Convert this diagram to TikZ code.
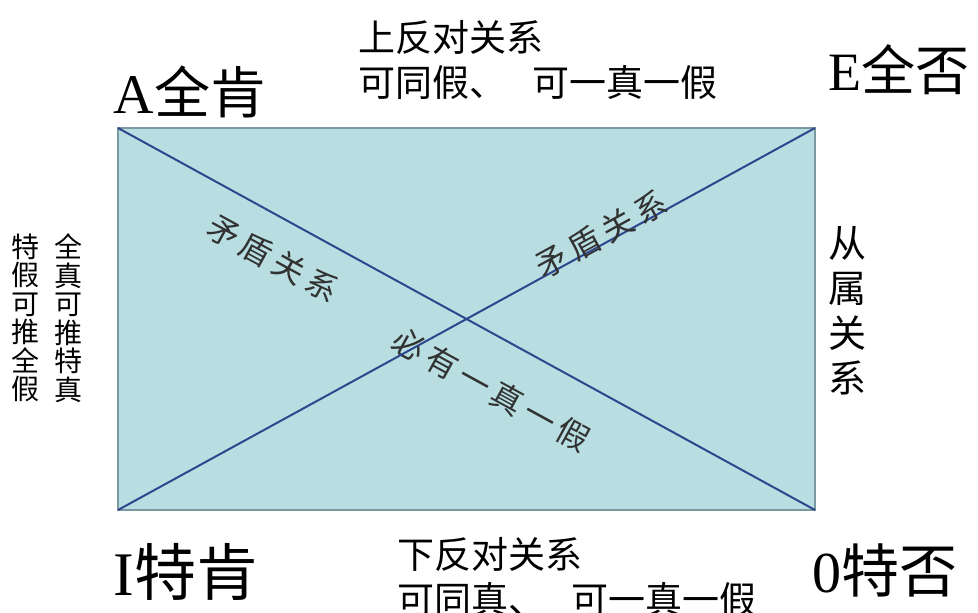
\documentclass[tikz,border=0pt]{standalone}
\usepackage{fontspec}
\setmainfont{Liberation Serif}
\newfontfamily\cjk{Noto Sans CJK SC}
\usepackage{tikz}
\usetikzlibrary{positioning}
\definecolor{boxfill}{RGB}{184,222,226}
\definecolor{boxline}{RGB}{122,152,160}
\definecolor{diagline}{RGB}{46,70,140}
\definecolor{txtgray}{RGB}{50,50,50}

\begin{document}
\begin{tikzpicture}
    [
    x=1pt,y=-1pt,
    corner/.style={inner sep=0pt},
    relation/.style={inner sep=0pt,anchor=west,align=left,font=\cjk\fontsize{37}{45}\selectfont},
    vertical/.style={inner sep=0pt,align=center},
    slant/.style={sloped,inner sep=2pt,text=txtgray,font=\cjk\fontsize{32}{36}\selectfont},
    ]
    \useasboundingbox (0,0) rectangle (978,613);
    \clip (0,0) rectangle (978,613);

    \coordinate (A) at (118,128);
    \coordinate (E) at (815,128);
    \coordinate (I) at (118,510);
    \coordinate (O) at (815,510);
    \draw [boxline,fill=boxfill,line width=1.5pt] (A) rectangle (O);
    \draw [diagline,line width=2pt] (A) -- (O)
        node [slant,pos=0.25,below=22pt] {矛\,盾\,关\,系}
        node [slant,pos=0.57,below=32pt] {必\,有\,一\,真\,一\,假};
    \draw [diagline,line width=2pt] (I) -- (E)
        node [slant,pos=0.70,above=-8pt] {矛\,盾\,关\,系};

    \node (a) at (190,92) [corner,font=\fontsize{56}{60}\selectfont] {A{\cjk 全肯}};
    \node (e) at (899,70) [corner,font=\fontsize{54}{60}\selectfont] {E{\cjk 全否}};
    \node (i) at (186,572) [corner,font=\fontsize{62}{66}\selectfont] {I{\cjk 特肯}};
    \node (o) at (885,570) [corner,font=\fontsize{58}{64}\selectfont] {0{\cjk 特否}};

    \node (upper) at (358,60) [relation] {上反对关系\\可同假、\hspace{0.7em}可一真一假};
    \node (lower) at (397,577) [relation] {下反对关系\\可同真、\hspace{0.7em}可一真一假};

    \node (sub) at (847,311) [vertical,font=\cjk\fontsize{38}{45}\selectfont] {从\\属\\关\\系};
    \node (left1) at (25,318) [vertical,font=\cjk\fontsize{28}{28.5}\selectfont] {特\\假\\可\\推\\全\\假};
    \node (left2) at (68,318) [vertical,font=\cjk\fontsize{28}{28.5}\selectfont] {全\\真\\可\\推\\特\\真};
\end{tikzpicture}
\end{document}
